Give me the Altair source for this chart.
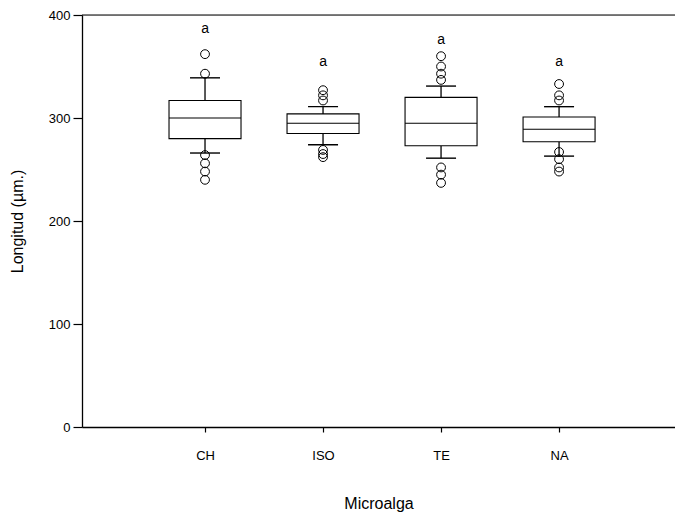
import altair as alt
import pandas as pd

# ---- data ----
categories = ["CH", "ISO", "TE", "NA"]
lower_whisker = [266, 274, 261, 263]
q1 = [280, 285, 273, 277]
median = [300, 295, 295, 289]
q3 = [317, 304, 320, 301]
upper_whisker = [339, 311, 331, 311]
outliers = [
    [362, 343, 264, 256, 248, 240],
    [327, 322, 317, 269, 265, 262],
    [360, 350, 343, 337, 252, 245, 237],
    [333, 322, 317, 267, 260, 252, 248],
]
letters = ["a", "a", "a", "a"]
letter_y = [386, 354, 376, 354]

FONT = "Liberation Sans"

pos = list(range(1, len(categories) + 1))
stats = pd.DataFrame({
    "pos": pos, "cat": categories, "lo": lower_whisker, "q1": q1,
    "med": median, "q3": q3, "hi": upper_whisker,
    "letter": letters, "ly": letter_y,
})
outl = pd.DataFrame(
    [(i + 1, v) for i, vals in enumerate(outliers) for v in vals],
    columns=["pos", "value"],
)

xscale = alt.Scale(domain=[0, 4.94], nice=False, zero=False)
yscale = alt.Scale(domain=[0, 400], nice=False, zero=True)

label_expr = " : ".join(
    f"datum.value == {p} ? '{c}'" for p, c in zip(pos, categories)
) + " : ''"

x_axis = alt.Axis(
    values=pos, labelExpr=label_expr, title="Microalga", grid=False,
    tickSize=5, labelFontSize=13, titleFontSize=16, labelPadding=17,
    labelFont=FONT, titleFont=FONT, titleFontWeight="normal",
    domainColor="black", tickColor="black", labelColor="black", titleColor="black",
    domainWidth=1.3, tickWidth=1.2,
    titleY=76, titleBaseline="middle",
)
y_axis = alt.Axis(
    values=[0, 100, 200, 300, 400], title="Longitud (µm.)", grid=False,
    tickSize=9, labelFontSize=13, titleFontSize=16, labelPadding=3,
    labelFont=FONT, titleFont=FONT, titleFontWeight="normal",
    domainColor="black", tickColor="black", labelColor="black", titleColor="black",
    domainWidth=1.3, tickWidth=1.2,
    titleX=-65, titleY=206, titleAlign="center", titleBaseline="middle", titleAngle=270,
)


def X():
    return alt.X("pos:Q", scale=xscale, axis=x_axis)


def Y(field):
    return alt.Y(field, scale=yscale, axis=y_axis)


base = alt.Chart(stats)

whisk_up = base.mark_rule(color="black", strokeWidth=1.3).encode(
    x=X(), y=Y("q3:Q"), y2="hi:Q")
whisk_lo = base.mark_rule(color="black", strokeWidth=1.3).encode(
    x=X(), y=Y("lo:Q"), y2="q1:Q")
box = base.mark_bar(size=72, fill="white", stroke="black", strokeWidth=1.1, opacity=1).encode(
    x=X(), y=Y("q1:Q"), y2="q3:Q")
med = base.mark_tick(orient="horizontal", size=72, thickness=1, color="black", opacity=1).encode(
    x=X(), y=Y("med:Q"))
cap_hi = base.mark_tick(orient="horizontal", size=30, thickness=1.4, color="black", opacity=1).encode(
    x=X(), y=Y("hi:Q"))
cap_lo = base.mark_tick(orient="horizontal", size=30, thickness=1.4, color="black", opacity=1).encode(
    x=X(), y=Y("lo:Q"))
pts = alt.Chart(outl).mark_point(
    shape="circle", filled=False, size=78, color="black", strokeWidth=1, opacity=1
).encode(x=X(), y=Y("value:Q"))
txt = base.mark_text(font=FONT, fontSize=14, baseline="middle", color="black").encode(
    x=X(), y=Y("ly:Q"), text="letter:N")
top = alt.Chart(pd.DataFrame({"y": [400]})).mark_rule(color="black", strokeWidth=1.2).encode(
    y=Y("y:Q"))

chart = alt.layer(whisk_up, whisk_lo, box, med, cap_hi, cap_lo, pts, txt, top).properties(
    width=593, height=412,
    padding={"left": 82, "top": 15, "right": 0, "bottom": 100},
    autosize=alt.AutoSizeParams(type="none"),
).configure_view(stroke=None).configure(background="white")

chart.save("out.html", embed_options={"renderer": "svg", "actions": False})
